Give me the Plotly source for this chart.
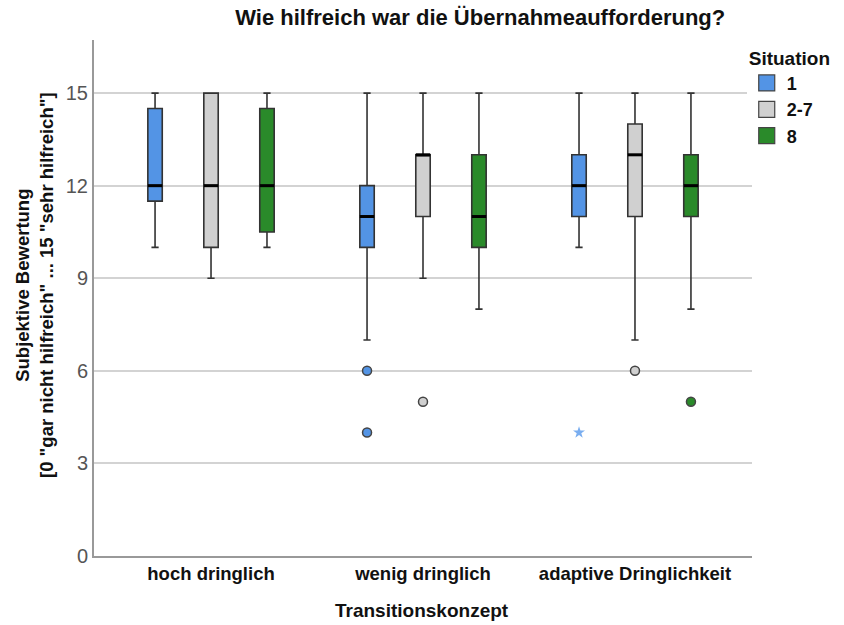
import plotly.graph_objects as go

categories = ["hoch dringlich", "wenig dringlich", "adaptive Dringlichkeit"]
series = ["1", "2-7", "8"]
colors = {"1": "#5394E5", "2-7": "#D0D0D0", "8": "#2A8A2A"}

q1 = {"1": [11.5, 10, 11], "2-7": [10, 11, 11], "8": [10.5, 10, 11]}
median = {"1": [12, 11, 12], "2-7": [12, 13, 13], "8": [12, 11, 12]}
q3 = {"1": [14.5, 12, 13], "2-7": [15, 13, 14], "8": [14.5, 13, 13]}
lowerfence = {"1": [10, 7, 10], "2-7": [9, 9, 7], "8": [10, 8, 8]}
upperfence = {"1": [15, 15, 15], "2-7": [15, 15, 15], "8": [15, 15, 15]}

# outliers: (category index, value)
outliers = {"1": [(1, 6), (1, 4)], "2-7": [(1, 5), (2, 6)], "8": [(2, 5)]}
extremes = {"1": [(2, 4)], "2-7": [], "8": []}

yticks = [0, 3, 6, 9, 12, 15]

offsets = {"1": -0.264, "2-7": 0.0, "8": 0.264}
bw = 0.068

fig = go.Figure()
for s in series:
    xs = [i + offsets[s] for i in range(len(categories))]
    fig.add_trace(go.Box(
        name=s, x=xs, q1=q1[s], median=median[s], q3=q3[s],
        lowerfence=lowerfence[s], upperfence=upperfence[s],
        width=bw, boxpoints=False, whiskerwidth=0.5, showlegend=False,
        fillcolor=colors[s], line=dict(color="#333333", width=1.6),
        hoverinfo="skip",
    ))
for s in series:
    xs = [i + offsets[s] for i in range(len(categories))]
    mx, my = [], []
    for x, m in zip(xs, median[s]):
        mx += [x - bw / 2, x + bw / 2, None]
        my += [m, m, None]
    fig.add_trace(go.Scatter(x=mx, y=my, mode="lines", line=dict(color="black", width=3),
                             showlegend=False, hoverinfo="skip"))
    if outliers[s]:
        fig.add_trace(go.Scatter(
            x=[c + offsets[s] for c, v in outliers[s]], y=[v for c, v in outliers[s]],
            mode="markers", showlegend=False,
            marker=dict(symbol="circle", size=9, color=colors[s], line=dict(color="#444444", width=1.5)),
        ))
    if extremes[s]:
        fig.add_trace(go.Scatter(
            x=[c + offsets[s] for c, v in extremes[s]], y=[v for c, v in extremes[s]],
            mode="markers", showlegend=False,
            marker=dict(symbol="star", size=9, color="#7AAEF0", line=dict(width=0)),
        ))
# legend entries (square swatches)
for s in series:
    fig.add_trace(go.Scatter(
        x=[None], y=[None], mode="markers", name="<b>%s</b>" % s,
        marker=dict(symbol="square", size=16, color=colors[s], line=dict(color="#444444", width=1.2)),
    ))

fig.update_layout(
    width=844, height=625,
    margin=dict(l=94, r=92, t=40, b=69, autoexpand=False),
    paper_bgcolor="white", plot_bgcolor="white",
    font=dict(family="Liberation Sans, Arial, sans-serif", color="#222222"),
    title=dict(text="<b>Wie hilfreich war die Übernahmeaufforderung?</b>",
               x=0.569, xanchor="center", y=0.972, yanchor="middle",
               font=dict(size=22, color="#111111")),
    showlegend=True,
    legend=dict(x=0.992, xanchor="left", y=1.0, yanchor="top",
                title=dict(text="<b>Situation</b>", font=dict(size=19, color="#111111")),
                font=dict(size=18, color="#111111"), itemwidth=30, tracegroupgap=0),
    xaxis=dict(range=[-0.552, 2.552], tickvals=list(range(len(categories))),
               ticktext=["<b>%s</b>" % c for c in categories], automargin=False,
               showgrid=False, zeroline=False, showline=True, linecolor="#999999", linewidth=2,
               ticks="", tickfont=dict(size=18.5, color="#111111")),
    yaxis=dict(range=[0, 16.72], tickvals=yticks, ticktext=[str(t) for t in yticks],
               showgrid=True, gridcolor="#D3D3D3", gridwidth=1.5, zeroline=False,
               showline=True, linecolor="#999999", linewidth=2, ticks="", automargin=False,
               tickfont=dict(size=20, color="#555555")),
    annotations=[
        dict(text="<b>Subjektive Bewertung<br>[0 \"gar nicht hilfreich\" ... 15 \"sehr hilfreich\"]</b>",
             xref="paper", yref="paper", x=(34 - 94) / 658, y=(556 - 285) / 516,
             xanchor="center", yanchor="middle", textangle=-90, showarrow=False,
             font=dict(size=18.5, color="#111111")),
        dict(text="<b>Transitionskonzept</b>",
             xref="paper", yref="paper", x=(422 - 94) / 658, y=(556 - 610) / 516,
             xanchor="center", yanchor="middle", showarrow=False,
             font=dict(size=19, color="#111111")),
    ],
)

fig.write_html("out.html")
